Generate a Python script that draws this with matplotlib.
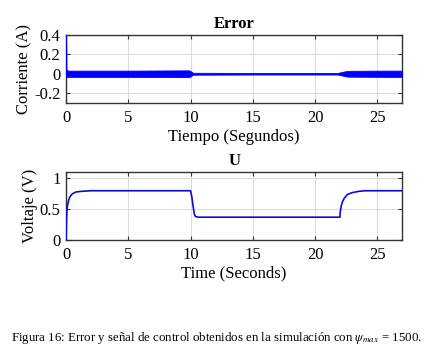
import matplotlib
matplotlib.use('Agg')
import matplotlib.pyplot as plt

plt.rcParams['font.family'] = ['Liberation Serif', 'DejaVu Serif']
plt.rcParams['mathtext.fontset'] = 'stix'

# error band envelope (the signal oscillates fast inside this band)
t_err = [0, 0.03, 0.2, 5, 9.9, 10.2, 15, 21.8, 22.6, 25, 27]
err_hi = [0.4, 0.04, 0.032, 0.032, 0.035, 0.01, 0.008, 0.008, 0.03, 0.032, 0.032]
err_lo = [-0.03, -0.035, -0.032, -0.032, -0.035, -0.01, -0.008, -0.008, -0.03, -0.032, -0.032]

# control signal
t_u = [0, 0.03, 0.06, 0.1, 0.2, 0.3, 0.5, 0.8, 1.2, 2, 3, 10, 10.1, 10.2, 10.3, 10.4, 10.6, 22, 22.02,
       22.1, 22.2, 22.35, 22.6, 23, 23.5, 24, 25, 27]
u = [0, 0.3, 0.45, 0.55, 0.64, 0.7, 0.75, 0.78, 0.79, 0.8, 0.8, 0.8, 0.7, 0.55, 0.42, 0.38, 0.37, 0.37, 0.45,
     0.55, 0.62, 0.68, 0.74, 0.77, 0.79, 0.8, 0.8, 0.8]

fig = plt.figure(figsize=(4.32, 3.56), dpi=100)
ax1 = fig.add_axes([0.153, 0.711, 0.778, 0.191])
ax2 = fig.add_axes([0.153, 0.326, 0.778, 0.19])

fs = 12
ax1.fill_between(t_err, err_lo, err_hi, color='#0000ff', lw=0.6, zorder=3)
ax1.plot([0, 0], [0, 0.4], color='#0000ff', lw=1.2, zorder=3)
ax1.set_xlim(0, 27)
ax1.set_ylim(-0.3, 0.4)
ax1.set_yticks([-0.2, 0, 0.2, 0.4])
ax1.set_yticklabels(['-0.2', '0', '0.2', '0.4'])
ax1.set_title('Error', fontsize=12, fontweight='bold', pad=5)
ax1.set_ylabel('Corriente (A)', fontsize=fs, labelpad=1)
ax1.set_xlabel('Tiempo (Segundos)', fontsize=fs, labelpad=2)

ax2.plot(t_u, u, color='#0a0ad8', lw=1.2, zorder=3)
ax2.set_xlim(0, 27)
ax2.set_ylim(0, 1.1)
ax2.set_yticks([0, 0.5, 1])
ax2.set_yticklabels(['0', '0.5', '1'])
ax2.set_title('U', fontsize=12, fontweight='bold', pad=5)
ax2.set_ylabel('Voltaje (V)', fontsize=fs, labelpad=1)
ax2.set_xlabel('Time (Seconds)', fontsize=fs, labelpad=2)

for ax in (ax1, ax2):
    ax.set_xticks([0, 5, 10, 15, 20, 25])
    ax.grid(True, color='#dcdcdc', lw=0.8)
    ax.set_axisbelow(True)
    ax.tick_params(direction='in', top=True, right=True, labelsize=fs, length=3, color='#333333')
    ax.tick_params(axis='x', pad=5)
    ax.tick_params(axis='y', pad=4)
    for s in ax.spines.values():
        s.set_linewidth(1.0)
        s.set_color('#333333')

fig.text(0.5, 0.05, r'Figura 16: Error y señal de control obtenidos en la simulación con $\psi_{max}$ = 1500.',
         ha='center', va='center', fontsize=9.3)

fig.savefig('out.png', dpi=100)
